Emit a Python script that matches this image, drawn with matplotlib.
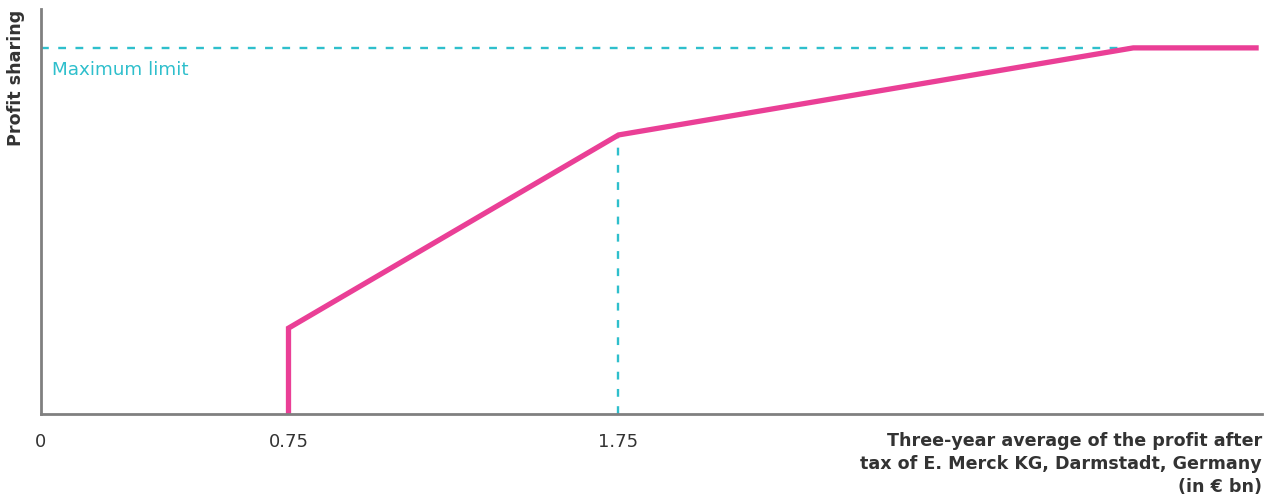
import matplotlib.pyplot as plt

# -------------------------------------------------------------------------
# Data (x in EUR bn, y in relative units of profit sharing)
# -------------------------------------------------------------------------
profit_x = [0.75, 0.75, 1.75, 3.31, 3.69]
sharing_y = [0.0, 21.2, 68.9, 90.4, 90.4]
max_limit = 90.4
tick_values = [0, 0.75, 1.75]
tick_labels = ["0", "0.75", "1.75"]

PINK = "#EA3F96"
TEAL = "#2EBFCC"
GREY = "#808080"
TEXT = "#333333"

plt.rcParams["font.family"] = ["DejaVu Sans"]

fig = plt.figure(figsize=(12.75, 4.97), dpi=100)
ax = fig.add_axes([41 / 1275, 83 / 497, 1221 / 1275, 405 / 497])

ax.set_xlim(0, 3.70)
ax.set_ylim(0, 100)

# maximum limit line, stops where the curve reaches it
ax.plot([0, profit_x[3] - 0.01], [max_limit, max_limit], color=TEAL, lw=1.7,
        dashes=(3.3, 4.0))
# helper line at the kink
ax.plot([profit_x[2], profit_x[2]], [0, sharing_y[2]], color=TEAL, lw=1.7,
        dashes=(3.3, 4.0))

ax.plot(profit_x, sharing_y, color=PINK, lw=3.8, solid_joinstyle="miter",
        solid_capstyle="butt")

ax.text(0.033, 84.9, "Maximum limit", color=TEAL, fontsize=13.2,
        ha="left", va="center")

for side in ["top", "right"]:
    ax.spines[side].set_visible(False)
for side in ["left", "bottom"]:
    ax.spines[side].set_color(GREY)
    ax.spines[side].set_linewidth(2)

ax.set_yticks([])
ax.set_xticks(tick_values)
ax.set_xticklabels(tick_labels, fontsize=13, color=TEXT)
ax.tick_params(axis="x", length=0, pad=14)

fig.text(1262 / 1275, 1 - 432 / 497,
         "Three-year average of the profit after\n"
         "tax of E. Merck KG, Darmstadt, Germany\n"
         "(in € bn)",
         ha="right", va="top", fontsize=12.6, fontweight="bold",
         color=TEXT, linespacing=1.35, multialignment="right")
fig.text(16 / 1275, 1 - 10 / 497, "Profit sharing", rotation=90,
         ha="center", va="top", fontsize=12.6, fontweight="bold", color=TEXT)

fig.savefig("out.png", dpi=100)
